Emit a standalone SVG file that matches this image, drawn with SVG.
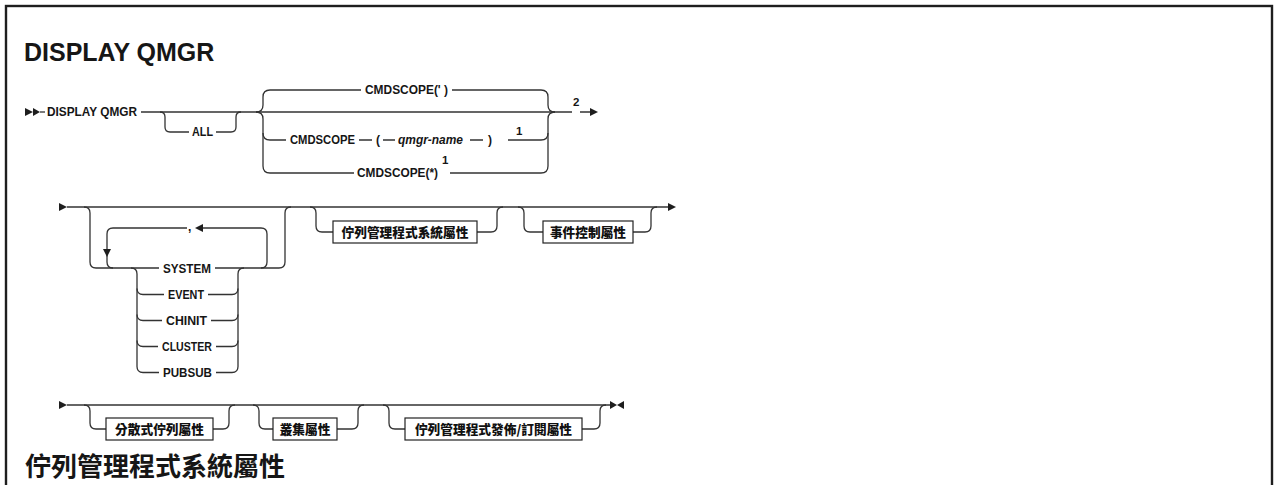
<svg xmlns="http://www.w3.org/2000/svg" width="1274" height="485" viewBox="0 0 1274 485">
<style>
.frame{fill:none;stroke:#1e1e1e;stroke-width:2.4}
.ln{fill:none;stroke:#333;stroke-width:1.3}
.ah{fill:#1e1e1e;stroke:none}
.lb{font-family:"Liberation Sans",Arial,sans-serif;font-size:12px;font-weight:bold;fill:#161616}
.it{font-style:italic}
.sup{font-family:"Liberation Sans",Arial,sans-serif;font-size:11.5px;font-weight:bold;fill:#161616}
.bx{fill:#fff;stroke:#222;stroke-width:1.2}
.bt{font-family:"Noto Sans CJK TC","Noto Sans CJK SC",sans-serif;font-size:12.7px;font-weight:900;fill:#111;text-anchor:middle}
.title{font-family:"Liberation Sans",Arial,sans-serif;font-size:25px;font-weight:bold;fill:#161616}
.sub{font-family:"Noto Sans CJK TC","Noto Sans CJK SC",serif;font-size:26px;font-weight:bold;fill:#161616}
</style>
<rect class="frame" x="6" y="6" width="1266" height="600"/>
<text class="title" x="24" y="61">DISPLAY QMGR</text>

<g id="connectors">
  <!-- row 1 -->
  <polygon class="ah" points="25,108 33,112 25,116"/>
  <polygon class="ah" points="33,108 40,112 33,116"/>
  <path class="ln" d="M40,112 H45"/>
  <path class="ln" d="M141,112 H572 M580,112 H591"/>
  <polygon class="ah" points="590,108 598,112 590,116"/>
  <path class="ln" d="M160,112 q5,0 5,5 V127 q0,5 5,5 H189 M216,132 H231 q5,0 5,-5 V117 q0,-5 5,-5"/>
  <path class="ln" d="M256,112 q7,0 7,-7 V97 q0,-7 7,-7 H361"/>
  <path class="ln" d="M256,112 q7,0 7,7 V166 q0,7 7,7 H354"/>
  <path class="ln" d="M263,133 q0,7 7,7 H286"/>
  <path class="ln" d="M452,90 H541 q7,0 7,7 V105 q0,7 7,7"/>
  <path class="ln" d="M450,173 H541 q7,0 7,-7 V119 q0,-7 7,-7"/>
  <path class="ln" d="M508,140 H541 q7,0 7,-7"/>
  <path class="ln" d="M359,140 H372 M383,140 H395 M470,140 H483"/>

  <!-- row 2 -->
  <polygon class="ah" points="59,203 67,207 59,211"/>
  <path class="ln" d="M67,207 H669"/>
  <polygon class="ah" points="668,203 676,207 668,211"/>
  <path class="ln" d="M84,207 q6,0 6,6 V262 q0,6 6,6 H159"/>
  <path class="ln" d="M215,268 H279 q6,0 6,-6 V213 q0,-6 6,-6"/>
  <path class="ln" d="M187,228 H113 q-6,0 -6,6 V262 q0,6 6,6"/>
  <polygon class="ah" points="103,249 111,249 107,257"/>
  <path class="ln" d="M202,228 H261 q6,0 6,6 V262 q0,6 -6,6"/>
  <polygon class="ah" points="203,224 203,232 195,228"/>
  <path class="ln" d="M131,268 q6,0 6,6 V366.5 q0,6 6,6 H159"/>
  <path class="ln" d="M137,288.5 q0,6 6,6 H164 M137,314.5 q0,6 6,6 H162 M137,340.5 q0,6 6,6 H158"/>
  <path class="ln" d="M244,268 q-6,0 -6,6 V366.5 q0,6 -6,6 H216"/>
  <path class="ln" d="M208,294.5 H232 q6,0 6,-6 M211,320.5 H232 q6,0 6,-6 M216,346.5 H232 q6,0 6,-6"/>
  <path class="ln" d="M310,207 q6,0 6,6 V226 q0,6 6,6 H333 M477,232 H491 q6,0 6,-6 V213 q0,-6 6,-6"/>
  <path class="ln" d="M518,207 q6,0 6,6 V226 q0,6 6,6 H543 M633,232 H645 q6,0 6,-6 V213 q0,-6 6,-6"/>

  <!-- row 3 -->
  <polygon class="ah" points="59,401 67,405 59,409"/>
  <path class="ln" d="M67,405 H611"/>
  <polygon class="ah" points="610,401 617,405 610,409"/>
  <polygon class="ah" points="624,401 617,405 624,409"/>
  <path class="ln" d="M84,405 q6,0 6,6 V423 q0,6 6,6 H106 M213,429 H223 q6,0 6,-6 V411 q0,-6 6,-6"/>
  <path class="ln" d="M253,405 q6,0 6,6 V423 q0,6 6,6 H273 M337,429 H352 q6,0 6,-6 V411 q0,-6 6,-6"/>
  <path class="ln" d="M383,405 q6,0 6,6 V423 q0,6 6,6 H405 M582,429 H594 q6,0 6,-6 V411 q0,-6 6,-6"/>
</g>

<g id="n-display"><text class="lb" x="47" y="116.3" textLength="90" lengthAdjust="spacingAndGlyphs">DISPLAY QMGR</text></g>
<g id="n-all"><text class="lb" x="192" y="136.3" textLength="21" lengthAdjust="spacingAndGlyphs">ALL</text></g>
<g id="n-cmdscope-blank"><text class="lb" x="365" y="94.3" textLength="83" lengthAdjust="spacingAndGlyphs">CMDSCOPE(' )</text></g>
<g id="n-cmdscope-q">
  <text class="lb" x="290" y="144.3" textLength="65" lengthAdjust="spacingAndGlyphs">CMDSCOPE</text>
  <text class="lb" x="376" y="144.3">(</text>
  <text class="lb it" x="398" y="144.3" textLength="65" lengthAdjust="spacingAndGlyphs">qmgr-name</text>
  <text class="lb" x="488" y="144.3">)</text>
  <text class="sup" x="516" y="135">1</text>
</g>
<g id="n-cmdscope-star">
  <text class="lb" x="357" y="177.3" textLength="81" lengthAdjust="spacingAndGlyphs">CMDSCOPE(*)</text>
  <text class="sup" x="442" y="163.5">1</text>
</g>
<g id="n-note2"><text class="sup" x="573" y="106">2</text></g>

<g id="n-comma"><text class="lb" x="188" y="231">,</text></g>
<g id="n-system"><text class="lb" x="163" y="272.5" textLength="48" lengthAdjust="spacingAndGlyphs">SYSTEM</text></g>
<g id="n-event"><text class="lb" x="168" y="298.8" textLength="36" lengthAdjust="spacingAndGlyphs">EVENT</text></g>
<g id="n-chinit"><text class="lb" x="166" y="324.8" textLength="41" lengthAdjust="spacingAndGlyphs">CHINIT</text></g>
<g id="n-cluster"><text class="lb" x="162" y="350.8" textLength="50" lengthAdjust="spacingAndGlyphs">CLUSTER</text></g>
<g id="n-pubsub"><text class="lb" x="163" y="376.8" textLength="49" lengthAdjust="spacingAndGlyphs">PUBSUB</text></g>

<g id="n-qmsys"><rect class="bx" x="333" y="221" width="144" height="22"/><text class="bt" x="405" y="236.5">佇列管理程式系統屬性</text></g>
<g id="n-event-ctl"><rect class="bx" x="543" y="221" width="90" height="22"/><text class="bt" x="588" y="236.5">事件控制屬性</text></g>
<g id="n-dq"><rect class="bx" x="106" y="418" width="107" height="22"/><text class="bt" x="159.5" y="433.5">分散式佇列屬性</text></g>
<g id="n-cluster-attr"><rect class="bx" x="273" y="418" width="64" height="22"/><text class="bt" x="305" y="433.5">叢集屬性</text></g>
<g id="n-pubsub-attr"><rect class="bx" x="405" y="418" width="177" height="22"/><text class="bt" x="493.5" y="433.5">佇列管理程式發佈/訂閱屬性</text></g>

<text class="sub" x="25" y="476">佇列管理程式系統屬性</text>
</svg>
